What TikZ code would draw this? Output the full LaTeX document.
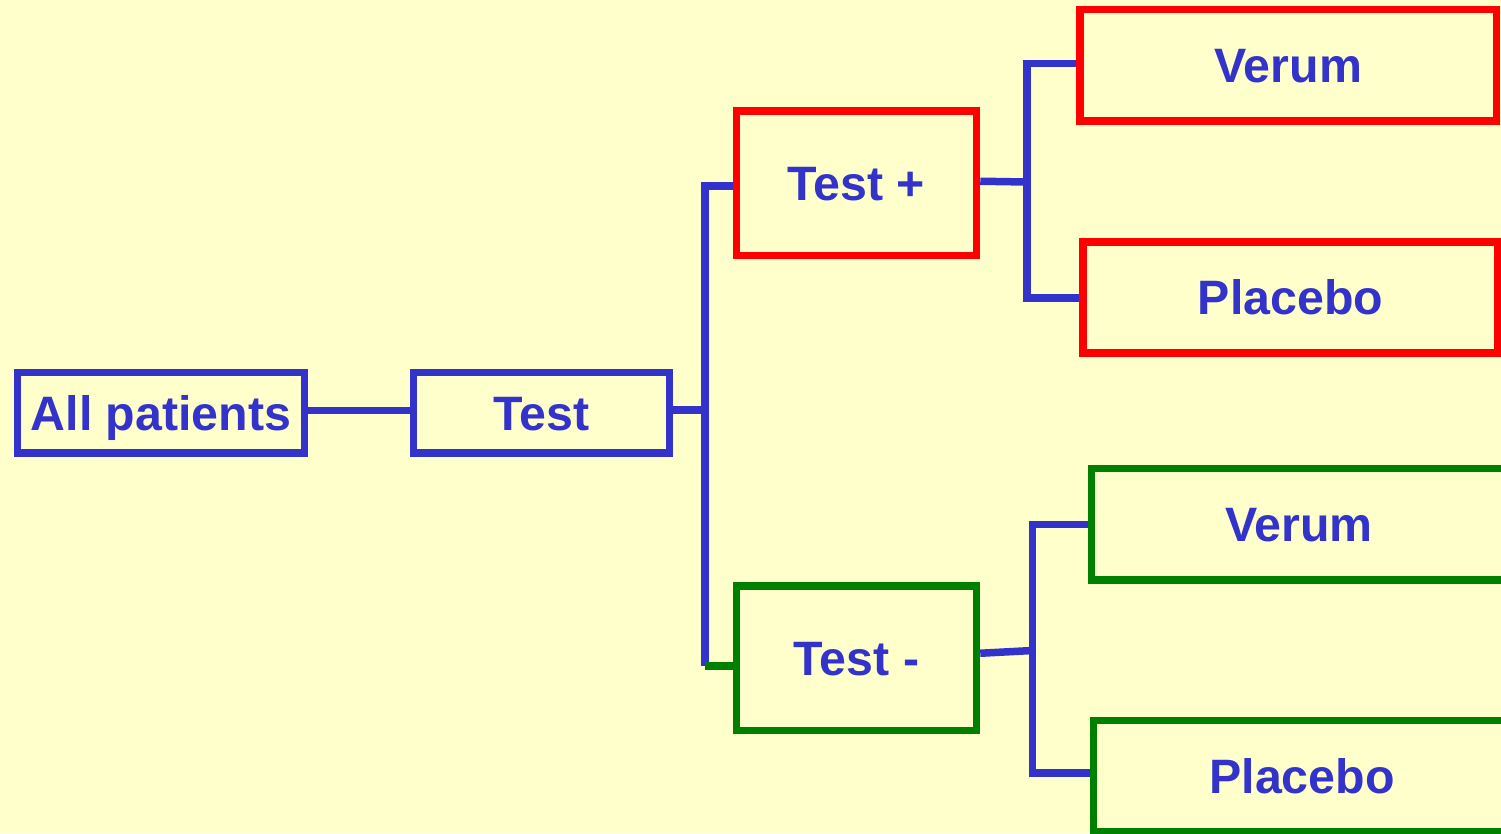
\documentclass[tikz,border=0pt]{standalone}
\usepackage{fontspec}
\setmainfont{Liberation Sans}
\definecolor{paper}{RGB}{255,255,204}
\definecolor{ink}{RGB}{51,51,204}
\definecolor{posred}{RGB}{255,0,0}
\definecolor{neggreen}{RGB}{0,128,0}
\tikzset{
  box/.style={draw=#1, rectangle, inner sep=0pt, line width=7.5pt,
    text=ink, font=\fontsize{48.3}{58}\selectfont\bfseries,
    text height=34.5pt, text depth=0pt, align=center},
  link/.style={draw=ink, line width=7.5pt},
}
\begin{document}
\begin{tikzpicture}[x=1pt,y=-1pt]
\useasboundingbox (0,0) rectangle (1501,833);
\fill[paper] (0,0) rectangle (1501,833);
\clip (0,0) rectangle (1501,833);

% boxes
\node[box=ink, minimum width=287pt, minimum height=80.5pt] (allp) at (161,412.8) {All patients};
\node[box=ink, minimum width=256pt, minimum height=80.5pt] (test) at (541.5,412.8) {Test};
\node[box=posred, minimum width=240pt, minimum height=144.5pt] (tp) at (856.5,183.25) {Test +};
\node[box=neggreen, minimum width=240pt, minimum height=144.5pt] (tm) at (856.5,658.25) {Test -};
\node[box=posred, minimum width=416.5pt, minimum height=111.5pt] (v1) at (1288.25,65.25) {Verum};
\node[box=posred, minimum width=415pt, minimum height=111pt] (p1) at (1290.5,297.5) {Placebo};
\node[box=neggreen, minimum width=415pt, minimum height=111.5pt] (v2) at (1299,524.25) {Verum};
\node[box=neggreen, minimum width=417pt, minimum height=111pt] (p2) at (1302,776) {Placebo};

% branching points
\coordinate (j0) at (705,410);
\coordinate (jt) at (705,186);
\coordinate (jb) at (705,666);
\coordinate (k0) at (1027,182);
\coordinate (kt) at (1027,63.5);
\coordinate (kb) at (1027,298);
\coordinate (m0) at (1032.5,650.5);
\coordinate (mt) at (1032.5,524.5);
\coordinate (mb) at (1032.5,773);

% first split
\draw[link] ([yshift=2.5pt]allp.east) -- ([yshift=2.5pt]test.west);
\draw[link] ([yshift=2.8pt]test.east) -- (j0);
\draw[link] (jt -| tp.west) -- (jt) -- (jb);
\draw[draw=neggreen, line width=7.5pt] (jb) -- (jb -| tm.west);

% randomisation of the positive group
\draw[link] ([yshift=2pt]tp.east) -- (k0);
\draw[link] (kt -| v1.west) -- (kt) -- (kb) -- (kb -| p1.west);

% randomisation of the negative group
\draw[link] ([yshift=5pt]tm.east) -- (m0);
\draw[link] (mt -| v2.west) -- (mt) -- (mb) -- (mb -| p2.west);
\end{tikzpicture}
\end{document}
